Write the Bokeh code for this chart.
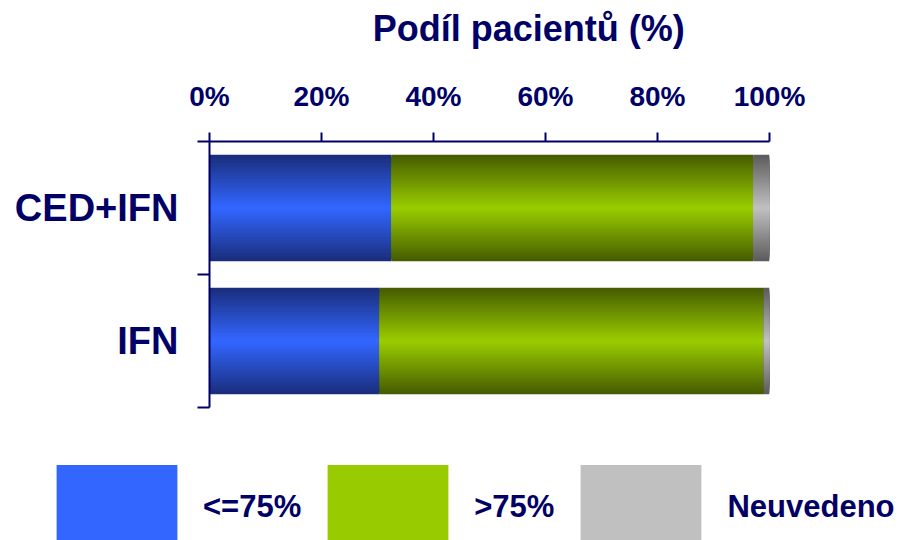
import numpy as np
from bokeh.plotting import figure
from bokeh.models import (ColumnDataSource, Range1d, FixedTicker, Legend, LegendItem,
                          LinearAxis)
from bokeh.embed import file_html
from bokeh.resources import INLINE

# ---------------- data ----------------
categories = ["IFN", "CED+IFN"]          # bottom to top
series_names = ["<=75%", ">75%", "Neuvedeno"]
le75 = [30.4, 32.5]
gt75 = [68.6, 64.6]
neuvedeno = [1.0, 2.9]
tick_values = [0, 20, 40, 60, 80, 100]
tick_labels = ["0%", "20%", "40%", "60%", "80%", "100%"]
title_text = "Podíl pacientů (%)"
title_center = 57.0     # horizontal centre of the title, in axis units

# ---------------- style ----------------
NAVY = "#000066"
FONT = "Liberation Sans"
center_colors = ["#3366FF", "#99CC00", "#C0C0C0"]
edge_colors = ["#1A2E7C", "#465C00", "#5C5C5C"]
BAR_H = 0.8
N_STEPS = 40


def hex2rgb(h):
    h = h.lstrip("#")
    return np.array([int(h[i:i + 2], 16) for i in (0, 2, 4)], dtype=float)


def rgb2hex(c):
    return "#%02x%02x%02x" % tuple(int(round(v)) for v in c)


series = [le75, gt75, neuvedeno]
ypos = [i + 0.5 for i in range(len(categories))]

# stacked extents
lefts, rights = [], []
cum = np.zeros(len(categories))
for s in series:
    lefts.append(cum.copy())
    cum = cum + np.array(s)
    rights.append(cum.copy())

# nested bars to build a symmetric vertical gradient (dark edge -> bright centre)
ys, ls, rs, hs, cs = [], [], [], [], []
for si in range(len(series)):
    e = hex2rgb(edge_colors[si])
    c = hex2rgb(center_colors[si])
    for k in range(N_STEPS):
        t = k / (N_STEPS - 1)
        col = rgb2hex(e + (c - e) * t)
        h = BAR_H * (N_STEPS - k) / N_STEPS
        for ci in range(len(categories)):
            ys.append(ypos[ci])
            ls.append(lefts[si][ci])
            rs.append(rights[si][ci])
            hs.append(h)
            cs.append(col)

src = ColumnDataSource(dict(y=ys, left=ls, right=rs, h=hs, color=cs))

p = figure(width=900, height=440,
           x_range=Range1d(0, 100), y_range=Range1d(0, 2),
           x_axis_location="above",
           output_backend="svg", toolbar_location=None,
           min_border_left=209, min_border_right=131,
           min_border_top=141, min_border_bottom=33)
p.outline_line_color = None
p.grid.visible = False
p.background_fill_color = "white"
p.border_fill_color = "white"

p.hbar(y="y", left="left", right="right", height="h", source=src,
       fill_color="color", line_color=None)

# top x axis
xa = p.xaxis[0]
xa.ticker = FixedTicker(ticks=tick_values)
xa.major_label_overrides = {v: l for v, l in zip(tick_values, tick_labels)}
xa.major_label_text_font = FONT
xa.major_label_text_font_style = "bold"
xa.major_label_text_font_size = "28px"
xa.major_label_text_color = NAVY
xa.major_label_standoff = 21
xa.major_tick_out = 9
xa.major_tick_in = 0
xa.minor_tick_line_color = None
xa.axis_line_color = NAVY
xa.axis_line_width = 2
xa.major_tick_line_color = NAVY
xa.major_tick_line_width = 2

# title drawn as the single label of an extra top axis
title_axis = LinearAxis(ticker=FixedTicker(ticks=[title_center]),
                        major_label_overrides={title_center: title_text},
                        major_label_text_font=FONT,
                        major_label_text_font_style="bold",
                        major_label_text_font_size="36px",
                        major_label_text_color=NAVY,
                        major_label_standoff=29,
                        major_tick_out=0, major_tick_in=0,
                        major_tick_line_color=None,
                        minor_tick_line_color=None,
                        axis_line_color=None)
p.add_layout(title_axis, "above")

# left y axis: labels at category centres, ticks at category boundaries
ya = p.yaxis[0]
ya.ticker = FixedTicker(ticks=ypos, minor_ticks=[0, 1, 2])
ya.major_label_overrides = {y: c for y, c in zip(ypos, categories)}
ya.major_label_text_font = FONT
ya.major_label_text_font_style = "bold"
ya.major_label_text_font_size = "38px"
ya.major_label_text_color = NAVY
ya.major_label_standoff = 19
ya.major_tick_out = 0
ya.major_tick_in = 0
ya.major_tick_line_color = None
ya.minor_tick_out = 12
ya.minor_tick_in = 0
ya.minor_tick_line_color = NAVY
ya.minor_tick_line_width = 2
ya.axis_line_color = NAVY
ya.axis_line_width = 2

# ---------------- legend strip (separate root below the chart) ----------------
p2 = figure(width=900, height=100,
            x_range=Range1d(0, 1), y_range=Range1d(0, 1),
            x_axis_location=None, y_axis_location=None,
            output_backend="svg", toolbar_location=None,
            min_border_left=0, min_border_right=0,
            min_border_top=0, min_border_bottom=0)
p2.outline_line_color = None
p2.grid.visible = False
p2.background_fill_color = "white"
p2.border_fill_color = "white"

items = []
for name, col in zip(series_names, center_colors):
    # legend proxy: one bar placed outside the visible range
    r = p2.hbar(y=[-5], left=[0], right=[1], height=BAR_H,
                fill_color=col, line_color=None)
    items.append(LegendItem(label=name, renderers=[r]))

legend = Legend(items=items, orientation="horizontal",
                location=(41, -19),
                glyph_width=151, glyph_height=105,
                label_standoff=11, spacing=11,
                padding=0, margin=0,
                border_line_color=None, background_fill_alpha=0,
                label_text_font=FONT, label_text_font_style="bold",
                label_text_font_size="31px", label_text_color=NAVY)
p2.add_layout(legend, "center")

open("out.html", "w").write(file_html([p, p2], INLINE))
